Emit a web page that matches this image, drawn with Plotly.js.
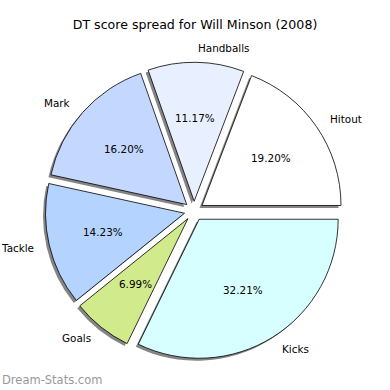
<!DOCTYPE html>
<html><head><meta charset="utf-8">
<script src="https://cdn.plot.ly/plotly-3.0.1.min.js"></script>
<style>html,body{margin:0;padding:0;background:#fff}#c{width:390px;height:390px}</style>
</head><body><div id="c"></div>
<script>
const categories = ["Hitout","Handballs","Mark","Tackle","Goals","Kicks"];
const percents = [19.20, 11.17, 16.20, 14.23, 6.99, 32.21];
const colors = ["#ffffff","#e8f0ff","#c4d8ff","#b4d4ff","#d0ea8c","#d8ffff"];
const titleText = "DT score spread for Will Minson (2008)";
const watermark = "Dream-Stats.com";

const W = 390, H = 390;
const cx = 194, cy = 211, R = 139, pull = 0.07;
const half = R * (1 + pull);
const total = percents.reduce((a, b) => a + b, 0);
// Plotly counterclockwise: rotation marks where the first slice ends (clockwise from 12 o'clock)
const rot = 90 - percents[0] / total * 360;
function dom(dx, dy) {
  return {x: [(cx + dx - half) / W, (cx + dx + half) / W],
          y: [(H - (cy + dy) - half) / H, (H - (cy + dy) + half) / H]};
}
const shadow = {
  type: "pie", values: percents, labels: categories.map(c => c + " "), sort: false,
  direction: "counterclockwise", rotation: rot, pull: pull,
  marker: {colors: categories.map(() => "#858585"), line: {width: 0}},
  textinfo: "none", hoverinfo: "skip", showlegend: false,
  domain: dom(-2.5, 2.5)
};
const main = {
  type: "pie", values: percents, labels: categories, sort: false,
  direction: "counterclockwise", rotation: rot, pull: pull,
  marker: {colors: colors, line: {color: "#000", width: 0.8}},
  textinfo: "none", showlegend: false,
  domain: dom(0, 0)
};
const ann = [];
let acc = 0;
percents.forEach((v, i) => {
  const mid = (acc + v / 2) / total * 2 * Math.PI;
  acc += v;
  const ux = Math.cos(mid), uy = -Math.sin(mid);
  const ox = cx + pull * R * ux, oy = cy + pull * R * uy;
  const lx = ox + 1.1 * R * ux, ly = oy + 1.1 * R * uy;
  ann.push({x: lx / W, y: 1 - ly / H, xref: "paper", yref: "paper", text: categories[i],
    showarrow: false, xanchor: ux > 0 ? "left" : "right", yanchor: "middle",
    font: {family: "DejaVu Sans", size: 10.4, color: "#000"}});
  const px = ox + 0.6 * R * ux, py = oy + 0.6 * R * uy;
  ann.push({x: px / W, y: 1 - py / H, xref: "paper", yref: "paper", text: v.toFixed(2) + "%",
    showarrow: false, xanchor: "center", yanchor: "middle",
    font: {family: "DejaVu Sans", size: 10.4, color: "#000"}});
});
ann.push({x: 0, y: 1 - 380 / H, xref: "paper", yref: "paper", text: watermark, showarrow: false,
  xanchor: "left", yanchor: "middle", font: {family: "DejaVu Sans", size: 11.5, color: "#999999"}});
const layout = {
  width: W, height: H, margin: {l: 0, r: 0, t: 0, b: 0},
  paper_bgcolor: "#fff", plot_bgcolor: "#fff",
  title: {text: titleText, x: 0.5, xanchor: "center", y: 1 - 25 / H, yanchor: "middle",
    font: {family: "DejaVu Sans", size: 12.6, color: "#000"}},
  annotations: ann, showlegend: false
};
Plotly.newPlot("c", [shadow, main], layout, {staticPlot: true});
</script></body></html>
